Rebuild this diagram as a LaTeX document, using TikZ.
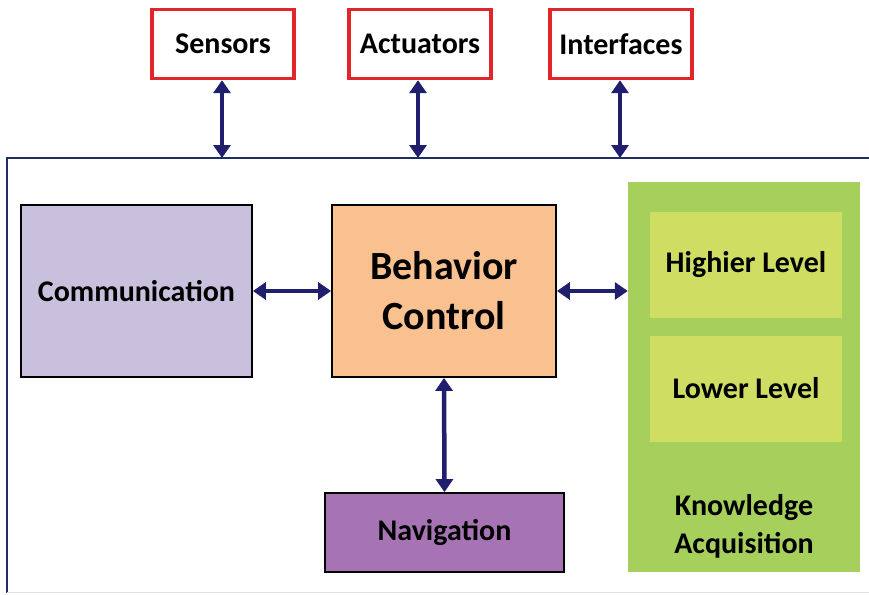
\documentclass[tikz,border=0pt]{standalone}
\usepackage{fontspec}
\setmainfont{Carlito}
\usetikzlibrary{arrows.meta}
\definecolor{navy}{HTML}{1F1F6E}
\definecolor{frameblue}{HTML}{1F2F5F}
\definecolor{boxred}{HTML}{E2252B}
\definecolor{lavender}{HTML}{C8C0DC}
\definecolor{peach}{HTML}{F9C18F}
\definecolor{plum}{HTML}{A674B4}
\definecolor{leaf}{HTML}{A6CF5B}
\definecolor{lime}{HTML}{CFDE63}
\tikzset{
  io/.style={draw=boxred,line width=3.4pt,fill=white,minimum width=142pt,minimum height=69pt,font=\bfseries\fontsize{30}{34}\selectfont},
  block/.style={draw=black,line width=1.8pt,font=\bfseries\fontsize{30}{34}\selectfont},
  level/.style={fill=lime,minimum width=192pt,minimum height=106pt,font=\bfseries\fontsize{30}{34}\selectfont},
  link/.style={draw=navy,line width=4.5pt,{Triangle[width=17pt,length=13pt]}-{Triangle[width=17pt,length=13pt]}}
}
\begin{document}
\begin{tikzpicture}[x=1pt,y=-1pt]
\useasboundingbox (0,0) rectangle (869,594);
\draw[frameblue,line width=2pt] (7,593) -- (7,158) -- (869,158);
\draw[black!12,line width=1.5pt] (7,592.5) -- (869,592.5);
\coordinate (Sb) at (222,158);
\coordinate (Ab) at (418,158);
\coordinate (Ib) at (620,158);
\node[io] (sensors) at (223,44) {Sensors};
\node[io] (actuators) at (420,44) {Actuators};
\node[io] (interfaces) at (621,44) {Interfaces};
\node[block,fill=lavender,minimum width=231pt,minimum height=172pt] (comm) at (136.5,291) {Communication};
\node[block,fill=peach,minimum width=224pt,minimum height=172pt,align=center,font=\bfseries\fontsize{40}{50}\selectfont] (behavior) at (444,291) {Behavior\\Control};
\node[block,fill=plum,minimum width=239pt,minimum height=79pt] (nav) at (444.5,532.5) {Navigation};
\node[fill=leaf,minimum width=232pt,minimum height=390pt] (know) at (744,377) {};
\node[level] (high) at (746,264.5) {Highier Level};
\node[level] (low) at (746,388.5) {Lower Level};
\node[align=center,font=\bfseries\fontsize{30}{38}\selectfont] (kalabel) at (744,526) {Knowledge\\Acquisition};
\draw[link] (sensors.south -| Sb) -- (Sb);
\draw[link] (actuators.south -| Ab) -- (Ab);
\draw[link] (interfaces.south -| Ib) -- (Ib);
\draw[link] (comm.east) -- (behavior.west);
\draw[link] (behavior.east) -- (behavior.east -| know.west);
\draw[link] (behavior.south) -- (nav.north);
\end{tikzpicture}
\end{document}
